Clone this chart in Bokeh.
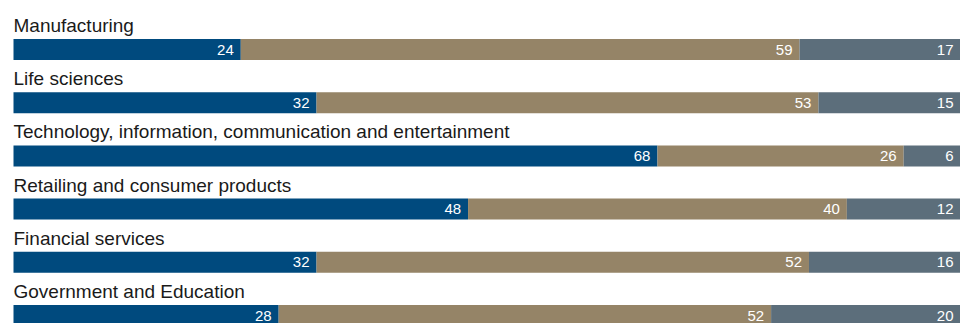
import numpy as np
from bokeh.plotting import figure
from bokeh.models import ColumnDataSource, Range1d
from bokeh.core.properties import value
from bokeh.embed import file_html
from bokeh.resources import INLINE

categories = [
    "Manufacturing",
    "Life sciences",
    "Technology, information, communication and entertainment",
    "Retailing and consumer products",
    "Financial services",
    "Government and Education",
]
series1 = [24, 32, 68, 48, 32, 28]
series2 = [59, 53, 26, 40, 52, 52]
series3 = [17, 15, 6, 12, 16, 20]
colors = ["#004a7e", "#958467", "#5c6e7b"]

W, H = 960, 323
px_per_unit_x = 9.47
left_px = 13
row_px = 53.2
center0_px = 49.0

x0 = -left_px / px_per_unit_x
x1 = x0 + W / px_per_unit_x
y_top = -center0_px / row_px
y_bot = (H - center0_px) / row_px

p = figure(width=W, height=H, output_backend="svg", toolbar_location=None,
           x_range=Range1d(x0, x1), y_range=Range1d(y_bot, y_top),
           min_border=0, min_border_left=0, min_border_right=0,
           min_border_top=0, min_border_bottom=0)
p.axis.visible = False
p.grid.visible = False
p.outline_line_color = None
p.background_fill_color = "white"
p.border_fill_color = "white"

rows = np.arange(len(categories))
vals = np.array([series1, series2, series3], dtype=float)
cum = np.cumsum(vals, axis=0)
lefts = cum - vals
bar_h = 21 / row_px

for k in range(3):
    src = ColumnDataSource(dict(y=rows, left=lefts[k], right=cum[k],
                                label=[str(int(v)) for v in vals[k]]))
    p.hbar(y="y", left="left", right="right", height=bar_h, source=src,
           fill_color=colors[k], line_color=None)
    p.text(x="right", y="y", text="label", source=src, x_offset=-7,
           text_align="right", text_baseline="middle",
           text_color="white", text_font=value("Liberation Sans"),
           text_font_size="15px")

lsrc = ColumnDataSource(dict(x=[0] * len(categories),
                             y=rows - 24 / row_px, t=categories))
p.text(x="x", y="y", text="t", source=lsrc, text_align="left",
       text_baseline="middle", text_color="#1a1a1a",
       text_font=value("Liberation Sans"), text_font_size="19px")

open("out.html", "w").write(file_html(p, INLINE))
